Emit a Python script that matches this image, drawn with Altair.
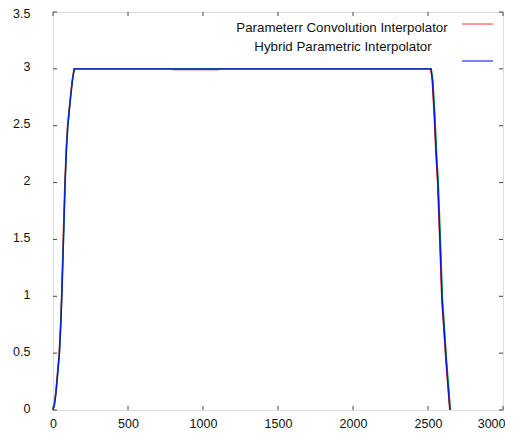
import altair as alt
import pandas as pd

# ---- data ----
red_x = [0, 8, 18, 28, 41, 50, 57, 68, 79, 88, 97, 108, 117, 128, 140,
         400, 780, 800, 1100, 1120, 1600, 2000, 2400, 2518, 2528, 2541, 2553,
         2564, 2578, 2592, 2606, 2619, 2633, 2645]
red_y = [0, 0.05, 0.15, 0.3, 0.5, 0.75, 1.0, 1.5, 2.0, 2.3, 2.5, 2.65, 2.77, 2.9, 3.0,
         3.0, 3.0, 2.995, 2.995, 3.0, 3.0, 3.0, 3.0, 3.0, 2.9, 2.6, 2.25,
         2.0, 1.5, 0.97, 0.7, 0.44, 0.2, 0.0]

green_x = [0, 10, 20, 30, 43, 52, 59, 70, 81, 90, 99, 110, 119, 130, 142,
           400, 800, 1200, 1600, 2000, 2400, 2522, 2533, 2546, 2558,
           2569, 2583, 2597, 2611, 2624, 2638, 2649]
green_y = [0, 0.05, 0.15, 0.3, 0.5, 0.75, 1.0, 1.5, 2.0, 2.3, 2.5, 2.65, 2.77, 2.9, 3.0,
           3.0, 3.0, 3.0, 3.0, 3.0, 3.0, 3.0, 2.9, 2.6, 2.25,
           2.0, 1.5, 0.97, 0.7, 0.44, 0.2, 0.0]

blue_x = [0, 10, 20, 30, 43, 52, 59, 70, 81, 90, 99, 110, 119, 130, 142,
          400, 800, 1200, 1600, 2000, 2400, 2520, 2530, 2543, 2555,
          2566, 2580, 2594, 2608, 2621, 2635, 2647]
blue_y = [0, 0.05, 0.15, 0.3, 0.5, 0.75, 1.0, 1.5, 2.0, 2.3, 2.5, 2.65, 2.77, 2.9, 3.0,
          3.0, 3.0, 3.0, 3.0, 3.0, 3.0, 3.0, 2.9, 2.6, 2.25,
          2.0, 1.5, 0.97, 0.7, 0.44, 0.2, 0.0]

legend_labels = ["Parameterr Convolution Interpolator", "Hybrid Parametric Interpolator"]
x_ticks = [0, 500, 1000, 1500, 2000, 2500, 3000]
y_ticks = [0, 0.5, 1, 1.5, 2, 2.5, 3, 3.5]

# ---- layout / style ----
W, H = 450, 398
FONT = "Liberation Sans"
TC = "#444444"

xs = alt.Scale(domain=[0, 3000], nice=False, zero=False)
ys = alt.Scale(domain=[0, 3.5], nice=False, zero=False)

x_axis = alt.Axis(values=x_ticks, format="d", tickSize=0, domain=False, grid=False,
                  labelPadding=7, labelFontSize=12.5, labelFont=FONT, labelColor="#111111",
                  labelFlush=False, labelOverlap=False, title=None,
                  labelAlign={"condition": {"test": "datum.value == 3000", "value": "right"},
                              "value": "center"},
                  labelOffset={"condition": {"test": "datum.value == 3000", "value": 2},
                               "value": 0})
y_axis = alt.Axis(values=y_ticks, format="~g", tickSize=0, domain=False, grid=False,
                  labelPadding=23, labelFontSize=12.5, labelFont=FONT,
                  labelColor="#111111", labelFlush=False, labelOverlap=False, title=None,
                  labelOffset={"condition": {"test": "datum.value == 3.5", "value": 1},
                               "value": -2})


def line(xv, yv, color, width, opacity=1.0):
    df = pd.DataFrame({"x": xv, "y": yv})
    return alt.Chart(df).mark_line(color=color, strokeWidth=width, opacity=opacity).encode(
        x=alt.X("x:Q", scale=xs, axis=x_axis),
        y=alt.Y("y:Q", scale=ys, axis=y_axis),
    )


xt = pd.DataFrame({"x": x_ticks})
yt = pd.DataFrame({"y": y_ticks})

bottom_ticks = alt.Chart(xt).mark_rule(color=TC).encode(
    x=alt.X("x:Q", scale=xs, axis=x_axis), y=alt.value(H), y2=alt.value(H - 4))
top_ticks = alt.Chart(xt).mark_rule(color=TC).encode(
    x=alt.X("x:Q", scale=xs, axis=x_axis), y=alt.value(0), y2=alt.value(4))
left_ticks = alt.Chart(yt).mark_rule(color=TC).encode(
    y=alt.Y("y:Q", scale=ys, axis=y_axis), x=alt.value(0), x2=alt.value(4))
right_ticks = alt.Chart(yt).mark_rule(color=TC).encode(
    y=alt.Y("y:Q", scale=ys, axis=y_axis), x=alt.value(W), x2=alt.value(W - 4))

one = pd.DataFrame({"a": [0]})
leg_text1 = alt.Chart(one).mark_text(text=legend_labels[0], font=FONT, fontSize=13.3,
                                     align="center", baseline="middle", color="#111111").encode(
    x=alt.value(289), y=alt.value(16))
leg_text2 = alt.Chart(one).mark_text(text=legend_labels[1], font=FONT, fontSize=13.3,
                                     align="center", baseline="middle", color="#111111").encode(
    x=alt.value(290), y=alt.value(35))
leg_line1 = alt.Chart(one).mark_rule(color="#ff3030", strokeWidth=1).encode(
    x=alt.value(409), x2=alt.value(440), y=alt.value(12))
leg_line2 = alt.Chart(one).mark_rule(color="#2030ff", strokeWidth=1.2).encode(
    x=alt.value(409), x2=alt.value(440), y=alt.value(49))

chart = alt.layer(
    line(red_x, red_y, "#ff0000", 1.4),
    line(green_x, green_y, "#00c000", 1.4),
    line(blue_x, blue_y, "#0000ff", 1.4, 0.85),
    bottom_ticks, top_ticks, left_ticks, right_ticks,
    leg_text1, leg_text2, leg_line1, leg_line2,
).properties(
    width=W, height=H,
    padding={"left": 45, "top": 4, "right": 2, "bottom": 20},
    autosize=alt.AutoSizeParams(type="none"),
).configure_view(stroke="#333333", strokeWidth=1).configure(background="white")

chart.save("out.html", embed_options={"renderer": "svg", "actions": False})
